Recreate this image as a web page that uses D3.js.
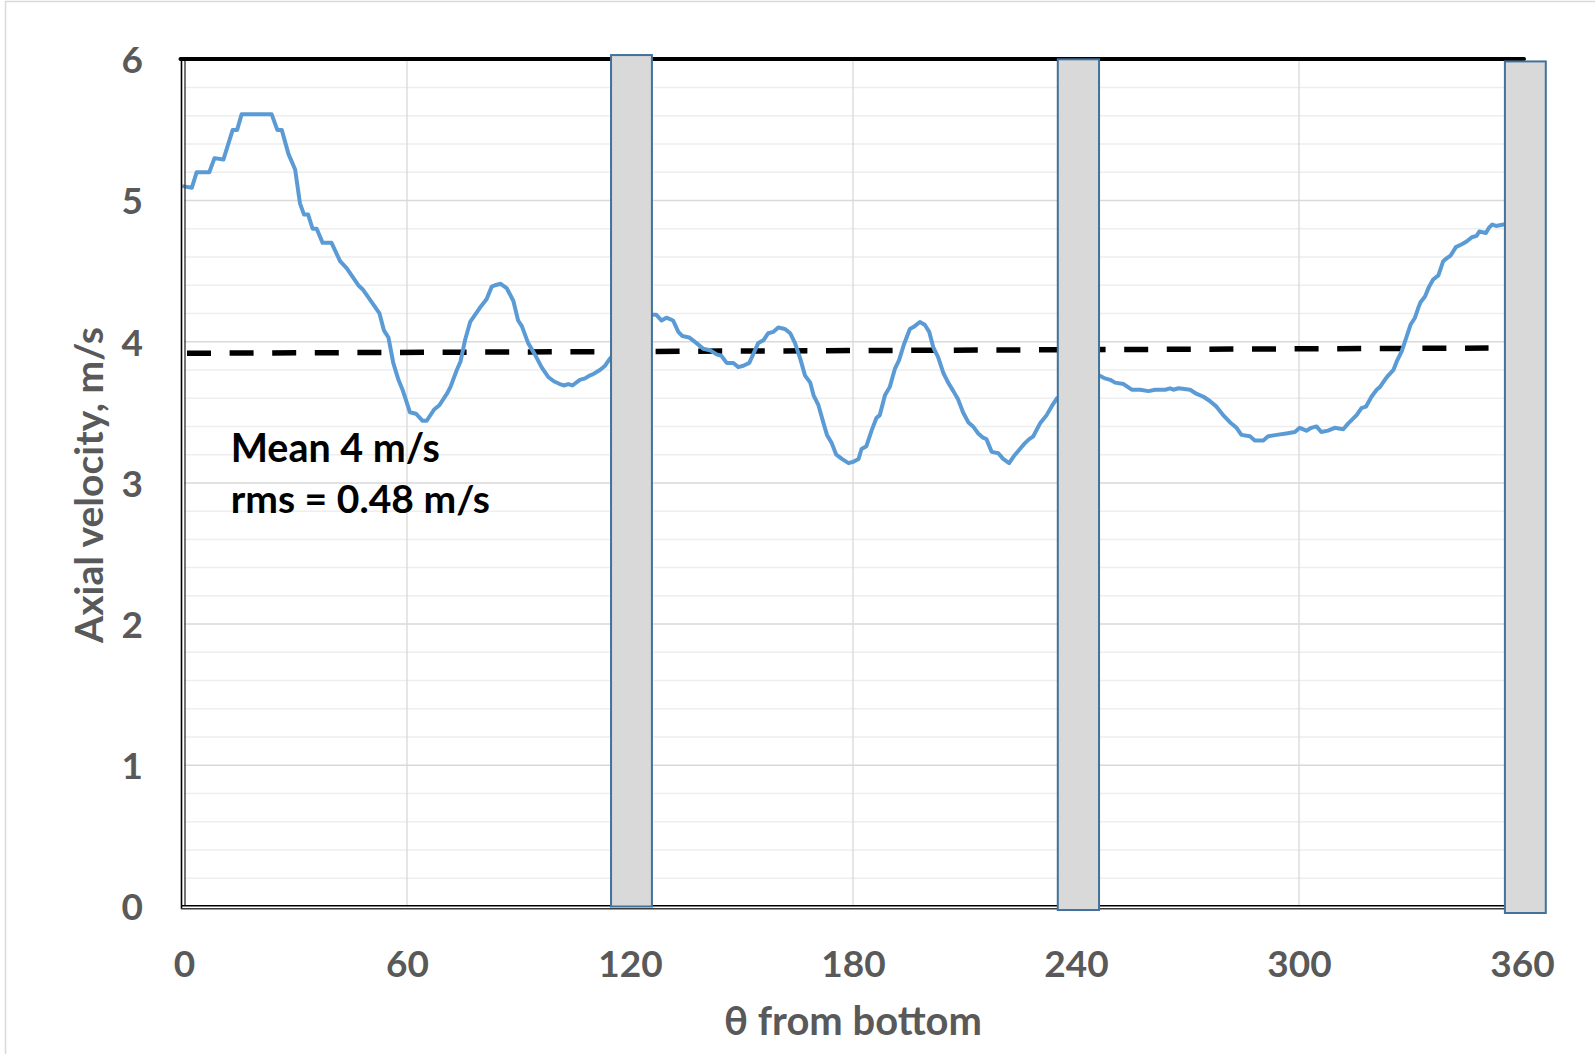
<!DOCTYPE html>
<html>
<head>
<meta charset="utf-8">
<script src="https://cdn.jsdelivr.net/npm/d3@7"></script>
<style>
  html, body { margin: 0; padding: 0; background: #ffffff; }
  svg { display: block; }
</style>
</head>
<body>
<svg id="chart" width="1595" height="1054"></svg>
<script>
// ---------------- data ----------------
const thetaDeg = [
  0, 2.1, 3.4, 6.8, 8.2, 10.6, 13.1, 14.3, 15.5, 23.6, 25.1, 26.3, 28.1, 29.9, 31.2, 32.3, 33.4, 34.6, 35.7, 37.3,
  39.7, 42.0, 43.8, 46.9, 48.1, 50.5, 52.6, 53.8, 55.0, 56.3, 57.7, 58.8, 60.8, 62.4, 64.2, 65.3, 67.3, 68.7, 70.7, 71.7,
  73.4, 74.4, 75.6, 77.0, 78.3, 79.6, 81.4, 82.8, 83.7, 85.2, 86.8, 88.6, 89.9, 90.9, 92.6, 94.4, 96.2, 98.0, 99.5, 101.1,
  102.2, 103.4, 104.5, 106.5, 107.9, 109.1, 110.1, 111.9, 113.3, 114.6,
  125.8, 127.1, 128.5, 129.8, 131.6, 133.0, 134.1, 135.9, 137.9, 139.7, 141.5, 143.3, 144.6, 146.0, 147.8, 149.1, 150.5, 152.1,
  153.3, 154.5, 155.9, 157.2, 158.6, 159.9, 161.7, 163.1, 164.4, 165.8, 167.1, 168.5, 169.4, 170.7, 172.1, 173.0, 174.3, 175.5,
  177.0, 178.8, 180.1, 181.5, 182.3, 183.6, 185.0, 186.3, 187.2, 188.6, 189.9, 191.3, 192.4, 193.7, 195.3, 196.6, 198.0, 199.3,
  200.5, 201.6, 202.9, 204.3, 205.6, 207.0, 208.3, 209.6, 211.0, 212.3, 213.7, 215.0, 215.9, 217.3, 219.1, 220.4, 222.0, 223.3,
  224.9, 226.2, 227.4, 228.5, 230.3, 232.1, 233.4, 234.9,
  246.3, 247.8, 249.2, 250.5, 252.8, 255.0, 257.3, 259.5, 261.3, 264.0, 265.3, 266.2, 267.6, 270.7, 272.5, 274.3, 276.0, 277.8,
  279.6, 281.4, 283.2, 284.5, 286.8, 288.1, 290.4, 291.7, 294.0, 296.6, 298.9, 300.2, 302.0, 303.3, 304.7, 306.0, 307.8, 309.6,
  311.9, 313.2, 315.5, 316.8, 318.0, 319.5, 320.9, 321.8, 323.1, 324.0, 325.4, 326.3, 327.6, 329.0, 330.0, 331.2, 332.1, 332.7,
  333.9, 335.0, 336.1, 337.5, 338.8, 339.7, 340.8, 342.2, 343.8, 345.1, 346.5, 347.8, 348.5, 350.3, 351.2, 352.0, 353.0, 355.0
];
const axialVel = [
  5.10, 5.09, 5.20, 5.20, 5.30, 5.29, 5.50, 5.50, 5.61, 5.61, 5.50, 5.50, 5.33, 5.22, 4.98, 4.90, 4.90, 4.80, 4.80, 4.70,
  4.70, 4.57, 4.52, 4.40, 4.37, 4.28, 4.20, 4.08, 4.03, 3.85, 3.73, 3.66, 3.50, 3.49, 3.44, 3.44, 3.52, 3.55, 3.63, 3.68,
  3.80, 3.86, 4.01, 4.14, 4.19, 4.24, 4.30, 4.39, 4.40, 4.41, 4.38, 4.29, 4.15, 4.11, 3.99, 3.91, 3.82, 3.75, 3.72, 3.70,
  3.69, 3.70, 3.69, 3.73, 3.74, 3.76, 3.77, 3.80, 3.83, 3.88,
  4.19, 4.19, 4.15, 4.17, 4.15, 4.07, 4.04, 4.03, 3.99, 3.95, 3.94, 3.91, 3.90, 3.85, 3.85, 3.82, 3.83, 3.85,
  3.92, 3.99, 4.01, 4.06, 4.07, 4.10, 4.09, 4.06, 3.99, 3.88, 3.76, 3.71, 3.62, 3.55, 3.42, 3.34, 3.28, 3.20,
  3.17, 3.14, 3.15, 3.17, 3.24, 3.26, 3.37, 3.46, 3.48, 3.62, 3.68, 3.81, 3.87, 3.98, 4.09, 4.11, 4.14, 4.12,
  4.07, 3.96, 3.89, 3.78, 3.71, 3.65, 3.59, 3.50, 3.43, 3.40, 3.35, 3.32, 3.31, 3.22, 3.21, 3.17, 3.14, 3.19,
  3.24, 3.28, 3.31, 3.33, 3.42, 3.48, 3.54, 3.60,
  3.76, 3.74, 3.73, 3.71, 3.70, 3.66, 3.66, 3.65, 3.66, 3.66, 3.67, 3.66, 3.67, 3.66, 3.63, 3.61, 3.58, 3.54,
  3.48, 3.43, 3.39, 3.34, 3.33, 3.30, 3.30, 3.33, 3.34, 3.35, 3.36, 3.39, 3.37, 3.39, 3.40, 3.36, 3.37, 3.39,
  3.38, 3.42, 3.48, 3.53, 3.54, 3.61, 3.66, 3.68, 3.73, 3.76, 3.80, 3.86, 3.93, 4.04, 4.12, 4.17, 4.24, 4.28,
  4.32, 4.39, 4.44, 4.47, 4.57, 4.59, 4.61, 4.67, 4.69, 4.71, 4.74, 4.75, 4.78, 4.77, 4.81, 4.83, 4.82, 4.83
];
// mean (trend) line end points
const meanTheta = [0, 351];
const meanVel = [3.918, 3.955];
// grey blocked sectors (degrees) and their vertical extent (m/s)
const barStart = [114.9, 235.1, 355.4];
const barEnd = [125.9, 246.2, 366.4];
const barTop = [6.03, 6.0, 5.985];
const barBottom = [0, -0.025, -0.046];
// ticks
const xTicks = [0, 60, 120, 180, 240, 300, 360];
const yTicks = [0, 1, 2, 3, 4, 5, 6];
const yMinor = [0.2,0.4,0.6,0.8,1.2,1.4,1.6,1.8,2.2,2.4,2.6,2.8,3.2,3.4,3.6,3.8,4.2,4.4,4.6,4.8,5.2,5.4,5.6,5.8];
// texts
const xTitle = "θ from bottom";
const yTitle = "Axial velocity, m/s";
const notes = ["Mean 4 m/s", "rms = 0.48 m/s"];

// ---------------- layout ----------------
const FONT = "Lato, 'Open Sans', 'DejaVu Sans', sans-serif";
const svg = d3.select("#chart");
const L = 184, R = 1522, T = 59.3, B = 906.5;
const x = d3.scaleLinear().domain([0, 360]).range([L, R]);
const y = d3.scaleLinear().domain([0, 6]).range([B, T]);

function fit(sel, w) {
  const fs = parseFloat(sel.attr("font-size"));
  const len = sel.node().getComputedTextLength();
  if (len > 0) sel.attr("font-size", fs * w / len);
  return sel;
}

// outer chart border
svg.append("rect").attr("x", 5.5).attr("y", 1.5).attr("width", 1610).attr("height", 1070)
  .attr("fill", "#fff").attr("stroke", "#d9d9d9").attr("stroke-width", 1.5);

// gridlines
const grid = svg.append("g");
grid.selectAll("line.minor").data(yMinor).join("line")
  .attr("x1", L).attr("x2", R).attr("y1", d => y(d)).attr("y2", d => y(d))
  .attr("stroke", "#eeeeee").attr("stroke-width", 1.5);
grid.selectAll("line.major").data(yTicks.filter(d => d > 0 && d < 6)).join("line")
  .attr("x1", L).attr("x2", R).attr("y1", d => y(d)).attr("y2", d => y(d))
  .attr("stroke", "#d9d9d9").attr("stroke-width", 1.5);
grid.selectAll("line.vert").data(xTicks.filter(d => d > 0)).join("line")
  .attr("x1", d => x(d)).attr("x2", d => x(d)).attr("y1", T).attr("y2", B)
  .attr("stroke", "#d9d9d9").attr("stroke-width", 1.3);

// mean dashed line
const meanPts = meanTheta.map((t, i) => [t, meanVel[i]]);
svg.append("path").datum(meanPts)
  .attr("d", d3.line().x(d => x(d[0])).y(d => y(d[1])))
  .attr("fill", "none").attr("stroke", "#000").attr("stroke-width", 5.5)
  .attr("stroke-dasharray", "24 18.6").attr("stroke-dashoffset", 39.6);

// velocity line
const pts = thetaDeg.map((t, i) => [t, axialVel[i]]);
svg.append("path").datum(pts)
  .attr("d", d3.line().x(d => x(d[0])).y(d => y(d[1])))
  .attr("fill", "none").attr("stroke", "#5b9bd5").attr("stroke-width", 4)
  .attr("stroke-linejoin", "round").attr("stroke-linecap", "round");

// plot frame
const frame = svg.append("g");
frame.append("line").attr("x1", 181.5).attr("x2", 181.5).attr("y1", 57).attr("y2", 909)
  .attr("stroke", "#000").attr("stroke-width", 1.6);
frame.append("line").attr("x1", 185).attr("x2", 185).attr("y1", 60).attr("y2", 906)
  .attr("stroke", "#3a3a3a").attr("stroke-width", 1.4);
frame.append("line").attr("x1", 181).attr("x2", R).attr("y1", 905.8).attr("y2", 905.8)
  .attr("stroke", "#000").attr("stroke-width", 1.6);
frame.append("line").attr("x1", 181).attr("x2", R).attr("y1", 908.8).attr("y2", 908.8)
  .attr("stroke", "#3a3a3a").attr("stroke-width", 1.4);
frame.append("line").attr("x1", 180.5).attr("x2", 1524).attr("y1", 59).attr("y2", 59)
  .attr("stroke", "#000").attr("stroke-width", 4).attr("stroke-linecap", "round");

// grey bars (blocked sectors)
svg.append("g").selectAll("rect").data(barStart.map((s, i) => i)).join("rect")
  .attr("x", i => x(barStart[i]))
  .attr("width", i => x(barEnd[i]) - x(barStart[i]))
  .attr("y", i => y(barTop[i]))
  .attr("height", i => y(barBottom[i]) - y(barTop[i]))
  .attr("fill", "#d9d9d9").attr("stroke", "#41719c").attr("stroke-width", 2);

// tick font size
const tickFs = 37;

// x axis
const xAxis = svg.append("g").attr("transform", `translate(0,${B})`)
  .call(d3.axisBottom(x).tickValues(xTicks).tickSize(0).tickFormat(d3.format("d")));
xAxis.select(".domain").remove();
xAxis.selectAll("text").attr("y", 977 - B).attr("dy", 0)
  .attr("font-family", FONT).attr("font-weight", 700).attr("font-size", tickFs).attr("fill", "#595959");

// y axis
const yAxis = svg.append("g").attr("transform", `translate(${L},0)`)
  .call(d3.axisLeft(y).tickValues(yTicks).tickSize(0).tickFormat(d3.format("d")));
yAxis.select(".domain").remove();
yAxis.selectAll("text").attr("x", 143 - L).attr("dy", "0.36em")
  .attr("font-family", FONT).attr("font-weight", 700).attr("font-size", tickFs).attr("fill", "#595959");

// axis titles
const xt = svg.append("text").attr("x", (L + R) / 2).attr("y", 1035).attr("text-anchor", "middle")
  .attr("font-family", FONT).attr("font-weight", 700).attr("font-size", 40).attr("fill", "#595959")
  .text(xTitle);
fit(xt, 258);
const yt = svg.append("text").attr("transform", "translate(103,485) rotate(-90)").attr("text-anchor", "middle")
  .attr("font-family", FONT).attr("font-weight", 700).attr("font-size", 40).attr("fill", "#595959")
  .text(yTitle);
fit(yt, 316);

// annotations
const noteX = 230.7, noteY = [461.7, 513.3], noteW = [209.3, 259.3];
notes.forEach((t, i) => {
  const s = svg.append("text").attr("x", noteX).attr("y", noteY[i])
    .attr("font-family", FONT).attr("font-weight", 700).attr("font-size", 36).attr("fill", "#000")
    .text(t);
  fit(s, noteW[i]);
});
</script>
</body>
</html>
